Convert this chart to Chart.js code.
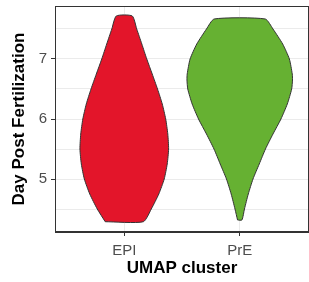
<!DOCTYPE html>
<html><head><meta charset="utf-8">
<script src="https://cdn.jsdelivr.net/npm/chart.js@4/dist/chart.umd.min.js"></script>
<style>html,body{margin:0;padding:0;background:#fff}#c{display:block}</style>
</head><body>
<canvas id="c" width="309" height="282"></canvas>
<script>
// Categories (x positions 1, 2)
const categories = ['EPI', 'PrE'];
const colors = ['#E3152A', '#66B132'];

// Violin outlines: y levels (Day Post Fertilization) and half-width of the density (category units)
const epiLevels    = [4.288, 4.5, 4.75, 5.0, 5.25, 5.5, 5.75, 6.0, 6.25, 6.5, 6.75, 7.0, 7.25, 7.5, 7.717];
const epiHalfWidth = [0.165, 0.234, 0.299, 0.346, 0.372, 0.384, 0.377, 0.359, 0.329, 0.288, 0.242, 0.195, 0.152, 0.108, 0.069];

const preLevels    = [4.317, 4.5, 4.75, 5.0, 5.25, 5.5, 5.75, 6.0, 6.25, 6.5, 6.65, 6.75, 7.0, 7.25, 7.5, 7.667];
const preHalfWidth = [0.019, 0.041, 0.074, 0.115, 0.169, 0.223, 0.288, 0.357, 0.412, 0.450, 0.457, 0.455, 0.430, 0.372, 0.288, 0.221];

// Axis ticks
const yTickValues = [4.5, 5, 5.5, 6, 6.5, 7, 7.5];
const yMin = 4.1167, yMax = 7.8833;
const xMin = 0.4, xMax = 2.6;

function violinPoints(center, levels, hw) {
  const pts = [];
  for (let i = 0; i < levels.length; i++) pts.push({x: center - hw[i], y: levels[i]});
  for (let i = levels.length - 1; i >= 0; i--) pts.push({x: center + hw[i], y: levels[i]});
  pts.push({x: center - hw[0], y: levels[0]});
  return pts;
}

const series = [
  {levels: epiLevels, hw: epiHalfWidth},
  {levels: preLevels, hw: preHalfWidth}
];

const datasets = series.map((s, i) => ({
  label: categories[i],
  data: violinPoints(i + 1, s.levels, s.hw),
  showLine: true,
  fill: 'shape',
  backgroundColor: colors[i],
  borderColor: '#333333',
  borderWidth: 1,
  pointRadius: 0,
  tension: 0.2
}));

const panelBorder = {
  id: 'panelBorder',
  afterDraw(chart) {
    const {ctx, chartArea: a} = chart;
    ctx.save();
    ctx.strokeStyle = '#333333';
    ctx.lineWidth = 1;
    ctx.strokeRect(a.left + 0.5, a.top + 0.5, a.right - a.left - 1, a.bottom - a.top - 1);
    ctx.restore();
  }
};

const FONT = "'Liberation Sans', Arial, sans-serif";

new Chart(document.getElementById('c'), {
  type: 'scatter',
  data: {datasets},
  options: {
    responsive: false,
    animation: false,
    events: [],
    layout: {padding: {top: 6, right: 0, left: 0, bottom: 0}},
    plugins: {legend: {display: false}, tooltip: {enabled: false}},
    scales: {
      x: {
        type: 'linear', min: xMin, max: xMax,
        afterBuildTicks: s => { s.ticks = categories.map((c, i) => ({value: i + 1})); },
        afterFit: s => { s.height = 50; s.paddingLeft = 0; s.paddingRight = 0; },
        ticks: {
          callback: v => categories[Math.round(v) - 1] || '',
          color: '#4D4D4D', font: {family: FONT, size: 15}, padding: 6,
          autoSkip: false, maxRotation: 0
        },
        grid: {color: '#EBEBEB', lineWidth: 1, tickColor: '#333333', tickLength: 4},
        border: {display: true, color: '#333333', width: 1},
        title: {display: true, text: 'UMAP cluster', color: '#000', font: {family: FONT, size: 17, weight: 'bold'}, padding: {top: 0, bottom: 3}}
      },
      y: {
        type: 'linear', min: yMin, max: yMax,
        afterBuildTicks: s => { s.ticks = yTickValues.map(v => ({value: v})); },
        afterFit: s => { s.width = 55; s.paddingTop = 0; s.paddingBottom = 0; },
        ticks: {
          callback: v => Number.isInteger(v) ? String(v) : '',
          color: '#4D4D4D', font: {family: FONT, size: 15}, padding: 4,
          autoSkip: false
        },
        grid: {
          color: '#EBEBEB', lineWidth: 1, tickLength: 4,
          tickColor: ctx => (ctx.tick && Number.isInteger(ctx.tick.value)) ? '#333333' : 'rgba(0,0,0,0)'
        },
        border: {display: true, color: '#333333', width: 1},
        title: {display: true, text: 'Day Post Fertilization', color: '#000', font: {family: FONT, size: 17, weight: 'bold'}, padding: {top: 9, bottom: 0}}
      }
    }
  },
  plugins: [panelBorder]
});
</script>
</body></html>
